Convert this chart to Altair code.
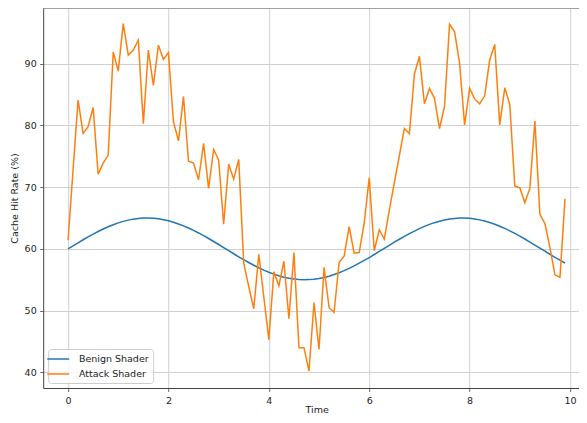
import altair as alt
import pandas as pd

# ---- data ----
time = [round(i * 0.1, 1) for i in range(100)]

benign = [
    60.00, 60.50, 60.99, 61.48, 61.95, 62.40, 62.82, 63.22, 63.59, 63.92,
    64.21, 64.46, 64.66, 64.82, 64.93, 64.99, 65.00, 64.96, 64.87, 64.73,
    64.55, 64.32, 64.04, 63.73, 63.38, 62.99, 62.58, 62.14, 61.68, 61.20,
    60.71, 60.21, 59.71, 59.21, 58.72, 58.25, 57.79, 57.35, 56.94, 56.56,
    56.22, 55.91, 55.64, 55.42, 55.24, 55.11, 55.03, 55.00, 55.02, 55.09,
    55.21, 55.37, 55.58, 55.84, 56.14, 56.47, 56.84, 57.25, 57.68, 58.13,
    58.60, 59.09, 59.58, 60.08, 60.58, 61.08, 61.56, 62.02, 62.47, 62.89,
    63.29, 63.64, 63.97, 64.25, 64.49, 64.69, 64.84, 64.94, 64.99, 64.99,
    64.95, 64.85, 64.70, 64.51, 64.27, 63.99, 63.67, 63.32, 62.92, 62.50,
    62.06, 61.60, 61.11, 60.62, 60.12, 59.62, 59.13, 58.64, 58.17, 57.71,
]

attack = [
    61.4, 72.8, 84.1, 78.7, 79.8, 82.9, 72.1, 73.9, 75.2, 91.9,
    88.8, 96.5, 91.4, 92.2, 93.8, 80.3, 92.2, 86.5, 93.0, 90.7,
    91.8, 80.6, 77.5, 84.7, 74.2, 73.9, 71.2, 77.1, 69.8, 76.1,
    74.4, 64.0, 73.7, 71.3, 74.5, 57.7, 53.9, 50.3, 59.1, 52.2,
    45.3, 56.3, 54.0, 58.0, 48.7, 59.4, 44.0, 44.0, 40.2, 51.3,
    43.7, 57.0, 50.5, 49.7, 57.8, 58.8, 63.6, 59.3, 59.4, 64.2,
    71.5, 59.7, 63.1, 61.6, 66.3, 70.7, 75.1, 79.5, 78.7, 88.3,
    91.2, 83.5, 86.0, 84.4, 79.5, 83.1, 96.4, 95.2, 90.1, 80.1,
    86.0, 84.3, 83.5, 84.8, 90.6, 93.1, 80.1, 86.1, 83.4, 70.2,
    69.9, 67.5, 69.8, 80.7, 65.6, 64.1, 60.2, 55.8, 55.4, 68.1,
]

series_names = ["Benign Shader", "Attack Shader"]
colors = ["#1f77b4", "#ff7f0e"]
x_ticks = [0, 2, 4, 6, 8, 10]
y_ticks = [40, 50, 60, 70, 80, 90]

df = pd.DataFrame({
    "Time": time + time,
    "value": benign + attack,
    "series": [series_names[0]] * len(benign) + [series_names[1]] * len(attack),
})

W = 535.8
H = 380
FONT = "DejaVu Sans"

x_scale = alt.Scale(domain=[-0.495, 10.179], nice=False, zero=False)
y_scale = alt.Scale(domain=[37.46, 99.03], nice=False, zero=False)
color_scale = alt.Scale(domain=series_names, range=colors)

base = alt.Chart(df).encode(
    x=alt.X("Time:Q", scale=x_scale,
            axis=alt.Axis(values=x_ticks, title="Time", titleX=273.4, format="d",
                          titlePadding=0)),
    y=alt.Y("value:Q", scale=y_scale,
            axis=alt.Axis(values=y_ticks, title="Cache Hit Rate (%)", format="d",
                          titlePadding=5)),
    color=alt.Color("series:N", scale=color_scale,
                    legend=alt.Legend(
                        title=None, orient="none", legendX=5, legendY=341,
                        fillColor="rgba(255,255,255,0.8)", strokeColor="#cccccc",
                        cornerRadius=3, padding=4,
                        symbolType="M-2.2,0H2.2", symbolSize=100, symbolStrokeWidth=1.5,
                        labelFont=FONT, labelFontSize=9.5, labelColor="#222222",
                        labelOffset=14.7, rowPadding=4,
                    )),
)

benign_line = base.transform_filter(alt.datum.series == series_names[0]).mark_line(strokeWidth=1.5)
attack_line = base.transform_filter(alt.datum.series == series_names[1]).mark_line(strokeWidth=1.5)

top_border = alt.Chart(pd.DataFrame({"k": [0]})).mark_rule(
    color="#444444", strokeWidth=1
).encode(x=alt.value(0), x2=alt.value(W), y=alt.value(0))

chart = alt.layer(benign_line, attack_line, top_border).properties(
    width=W, height=H,
    autosize=alt.AutoSizeParams(type="none"),
    padding={"left": 35.2, "top": 0, "right": 0, "bottom": 26},
).configure_view(
    stroke=None
).configure_axis(
    domainColor="#444444", domainWidth=1,
    tickColor="#444444", tickSize=3.5, tickWidth=0.8,
    labelFont=FONT, labelFontSize=9.5, labelColor="#222222", labelPadding=3.5,
    titleFont=FONT, titleFontSize=9.5, titleFontWeight="normal", titleColor="#222222",
    gridColor="#d0d0d0", gridWidth=1,
)

chart.save("out.html", embed_options={"renderer": "svg", "actions": False})
